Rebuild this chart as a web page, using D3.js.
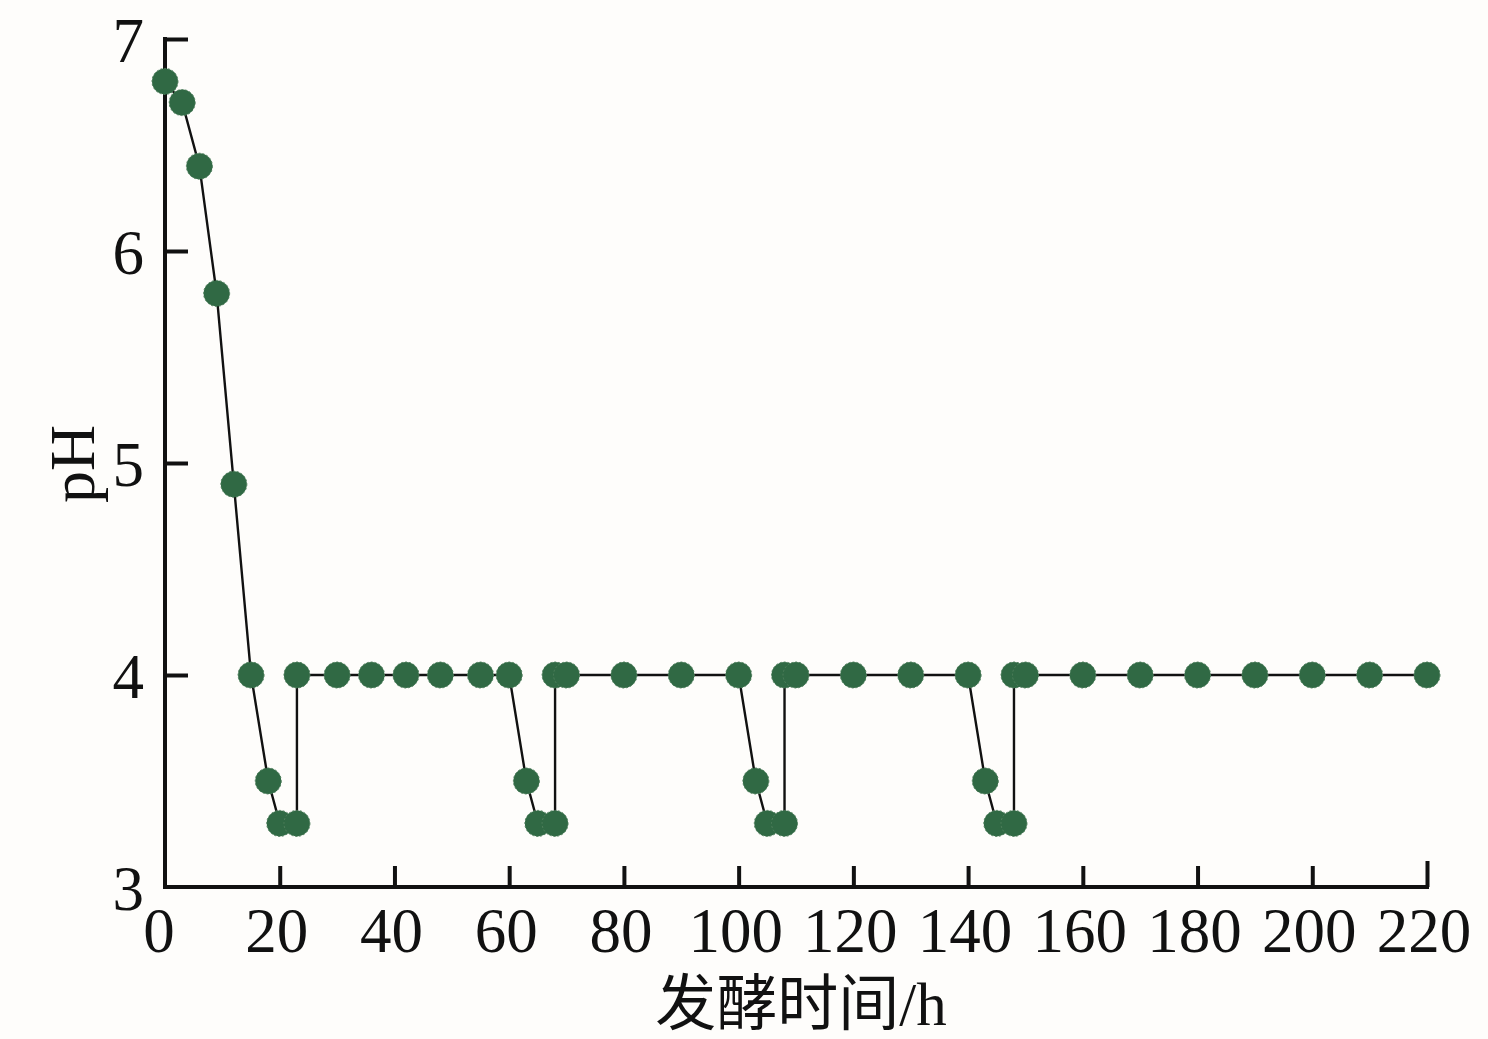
<!DOCTYPE html>
<html>
<head>
<meta charset="utf-8">
<script src="https://cdn.jsdelivr.net/npm/d3@7"></script>
<style>
  html, body { margin: 0; padding: 0; background: #fefdfb; }
  svg { display: block; }
</style>
</head>
<body>
<svg id="chart" width="1488" height="1039"></svg>
<script>
(function () {
  'use strict';

  // fermentation time (h) and pH
  var hours = [0, 3, 6, 9, 12, 15, 18, 20, 23, 23, 30, 36, 42, 48, 55, 60, 63, 65, 68, 68, 70,
    80, 90, 100, 103, 105, 108, 108, 110, 120, 130, 140, 143, 145, 148, 148, 150,
    160, 170, 180, 190, 200, 210, 220];
  var ph = [6.8, 6.7, 6.4, 5.8, 4.9, 4.0, 3.5, 3.3, 3.3, 4.0, 4.0, 4.0, 4.0, 4.0, 4.0, 4.0, 3.5, 3.3, 3.3, 4.0, 4.0,
    4.0, 4.0, 4.0, 3.5, 3.3, 3.3, 4.0, 4.0, 4.0, 4.0, 4.0, 3.5, 3.3, 3.3, 4.0, 4.0,
    4.0, 4.0, 4.0, 4.0, 4.0, 4.0, 4.0];
  var xTicks = [0, 20, 40, 60, 80, 100, 120, 140, 160, 180, 200, 220];
  var yTicks = [3, 4, 5, 6, 7];
  var xTitle = '发酵时间/h';
  var yTitle = 'pH';

  var data = hours.map(function (h, i) { return { x: h, y: ph[i] }; });

  var svg = d3.select('#chart');
  var x = d3.scaleLinear().domain([0, 220]).range([165, 1427]);
  var y = d3.scaleLinear().domain([3, 7]).range([887, 39]);

  var font = '"Liberation Serif", "Times New Roman", serif';
  var ink = '#111';

  // y axis, ticks pointing inward
  var yAxis = svg.append('g')
    .attr('transform', 'translate(' + x(0) + ',0)')
    .call(d3.axisRight(y).tickValues(yTicks).tickSize(23).tickFormat(''));
  yAxis.select('.domain').remove();
  yAxis.selectAll('.tick line')
    .attr('stroke', ink).attr('stroke-width', 4)
    .filter(function (d) { return d === 3; }).remove();

  // x axis, ticks pointing up
  var xAxis = svg.append('g')
    .attr('transform', 'translate(0,' + y(3) + ')')
    .call(d3.axisTop(x).tickValues(xTicks).tickSize(21).tickFormat(''));
  xAxis.select('.domain').remove();
  xAxis.selectAll('.tick line')
    .attr('stroke', ink).attr('stroke-width', 4)
    .filter(function (d) { return d === 0; }).remove();
  xAxis.selectAll('.tick line')
    .filter(function (d) { return d === 220; }).attr('y2', -26);

  // axis spines
  svg.append('path')
    .attr('d', 'M' + x(0) + ',' + y(7) + 'V' + y(3) + 'H' + x(220))
    .attr('fill', 'none').attr('stroke', ink).attr('stroke-width', 4)
    .attr('stroke-linecap', 'square');

  // tick labels
  svg.append('g').selectAll('text')
    .data(yTicks).enter().append('text')
    .attr('x', 144)
    .attr('y', function (d) { return y(d) + 23; })
    .attr('text-anchor', 'end')
    .attr('font-family', font).attr('font-size', 63).attr('fill', ink)
    .text(function (d) { return d; });

  svg.append('g').selectAll('text')
    .data(xTicks).enter().append('text')
    .attr('x', function (d) { return d === 0 ? x(d) - 6 : x(d) - 3; })
    .attr('y', 952)
    .attr('text-anchor', 'middle')
    .attr('font-family', font).attr('font-size', 63).attr('fill', ink)
    .text(function (d) { return d; });

  // titles
  svg.append('text')
    .attr('transform', 'translate(94,464) rotate(-90)')
    .attr('text-anchor', 'middle')
    .attr('font-family', font).attr('font-size', 64).attr('fill', ink)
    .text(yTitle);

  svg.append('text')
    .attr('x', 801).attr('y', 1025)
    .attr('text-anchor', 'middle')
    .attr('font-family', font + ', "Noto Sans CJK SC"').attr('font-size', 61)
    .attr('fill', ink)
    .text(xTitle);

  // line
  var line = d3.line()
    .x(function (d) { return x(d.x); })
    .y(function (d) { return y(d.y); });

  svg.append('path')
    .datum(data)
    .attr('d', line)
    .attr('fill', 'none')
    .attr('stroke', ink)
    .attr('stroke-width', 2.4);

  // markers
  svg.append('g').selectAll('circle')
    .data(data).enter().append('circle')
    .attr('cx', function (d) { return x(d.x); })
    .attr('cy', function (d) { return y(d.y); })
    .attr('r', 13)
    .attr('fill', '#306944')
    .attr('stroke', '#4f7f5c')
    .attr('stroke-width', 1)
    .attr('stroke-dasharray', '2,2');
})();
</script>
</body>
</html>
